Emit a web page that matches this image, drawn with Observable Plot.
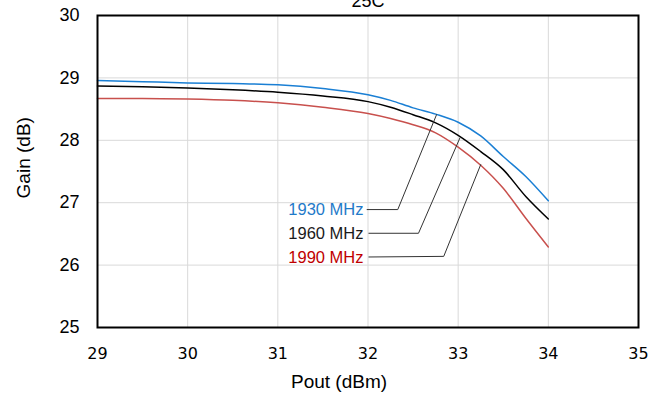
<!DOCTYPE html>
<html>
<head>
<meta charset="utf-8">
<script src="https://cdn.jsdelivr.net/npm/d3@7"></script>
<script src="https://cdn.jsdelivr.net/npm/@observablehq/plot@0.6"></script>
<style>
  html, body { margin: 0; padding: 0; background: #fff; }
  #chart svg { display: block; }
</style>
</head>
<body>
<div id="chart"></div>
<script>
// Pout (dBm) sample points
const pout = [29, 29.5, 30, 30.5, 31, 31.5, 32, 32.25, 32.5, 32.75, 33, 33.25, 33.5, 33.75, 34];
// Gain (dB) per frequency
const gain1930 = [28.96, 28.94, 28.92, 28.91, 28.89, 28.83, 28.73, 28.64, 28.52, 28.42, 28.29, 28.07, 27.74, 27.42, 27.03];
const gain1960 = [28.87, 28.86, 28.84, 28.81, 28.77, 28.71, 28.62, 28.53, 28.41, 28.28, 28.08, 27.82, 27.53, 27.10, 26.74];
const gain1990 = [28.67, 28.67, 28.66, 28.64, 28.60, 28.53, 28.43, 28.35, 28.25, 28.12, 27.89, 27.60, 27.23, 26.75, 26.29];

const seriesNames = ["1930 MHz", "1960 MHz", "1990 MHz"];
const lineColors = ["#1a7fd4", "#000000", "#c8504d"];
const labelColors = ["#1f7ac9", "#1a1a1a", "#c00000"];

const xTicks = [29, 30, 31, 32, 33, 34, 35];
const yTicks = [25, 26, 27, 28, 29, 30];

// annotation label anchors (data coords) and leader-line points
const labelX = [31.95, 31.95, 31.95];
const labelY = [26.88, 26.51, 26.12];
const leaderX = [[31.99, 32.33, 32.76], [32.01, 32.56, 33.02], [32.01, 32.84, 33.25]];
const leaderY = [[26.89, 26.89, 28.41], [26.51, 26.51, 28.04], [26.13, 26.14, 27.61]];

const title = "25C";
const xLabel = "Pout (dBm)";
const yLabel = "Gain (dB)";
// y-axis title anchor (data coords, outside the frame)
const yLabelPos = {x: 28.18, y: 27.72};

const gains = [gain1930, gain1960, gain1990];
const lineData = gains.flatMap((g, s) => pout.map((p, i) => ({series: seriesNames[s], x: p, y: g[i]})));
const leaderData = leaderX.flatMap((xs, s) => xs.map((x, i) => ({series: seriesNames[s], x, y: leaderY[s][i]})));
const labelData = seriesNames.map((n, s) => ({name: n, x: labelX[s], y: labelY[s], color: labelColors[s]}));

const arial = "'Liberation Sans', Arial, sans-serif";

const chart = Plot.plot({
  width: 657,
  height: 401,
  marginLeft: 97,
  marginRight: 19,
  marginTop: 15,
  marginBottom: 74,
  style: {fontFamily: arial, fontSize: "16px", color: "#000", background: "#fff", overflow: "visible"},
  x: {domain: [29, 35], label: null},
  y: {domain: [25, 30], label: null},
  color: {domain: seriesNames, range: lineColors},
  marks: [
    Plot.gridX(xTicks.filter(t => t > 29 && t < 35), {stroke: "#d9d9d9", strokeOpacity: 1, strokeWidth: 1}),
    Plot.gridY(yTicks.filter(t => t > 25 && t < 30), {stroke: "#d9d9d9", strokeOpacity: 1, strokeWidth: 1}),
    Plot.axisX(xTicks, {tickSize: 0, tickPadding: 20, tickFormat: d => String(d), fontSize: 16, fontFamily: "'DejaVu Sans', Verdana, sans-serif", label: null}),
    Plot.axisY(yTicks, {tickSize: 0, tickPadding: 18, tickFormat: d => String(d), fontSize: 18, fontFamily: arial, label: null}),
    Plot.line(lineData, {x: "x", y: "y", z: "series", stroke: "series", strokeWidth: 1.5, curve: "monotone-x"}),
    Plot.line(leaderData, {x: "x", y: "y", z: "series", stroke: "#333", strokeWidth: 1}),
    Plot.text(labelData, {x: "x", y: "y", text: "name", fill: d => d.color, textAnchor: "end", fontSize: 16.5, fontFamily: arial}),
    Plot.frame({stroke: "#000", strokeWidth: 2}),
    Plot.text([title], {frameAnchor: "top", dy: -9, lineAnchor: "bottom", fontSize: 18, fontFamily: arial, fill: "#000"}),
    Plot.text([xLabel], {frameAnchor: "bottom", dx: -29, dy: 60, fontSize: 19, fontFamily: arial, fill: "#000"}),
    Plot.text([yLabelPos], {x: "x", y: "y", text: () => yLabel, rotate: -90, fontSize: 19, fontFamily: arial, fill: "#000", clip: false})
  ]
});
document.getElementById("chart").append(chart);
</script>
</body>
</html>
